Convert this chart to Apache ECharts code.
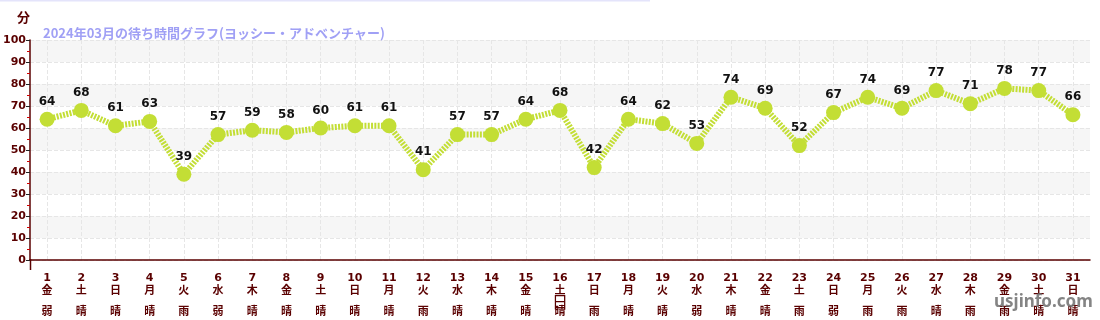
<!DOCTYPE html>
<html><head><meta charset="utf-8">
<script src="https://cdn.jsdelivr.net/npm/echarts@6/dist/echarts.min.js"></script>
<style>html,body{margin:0;padding:0;background:#fff}#c{width:1100px;height:320px}</style>
</head><body><div id="c"></div>
<script>
const days = ['1','2','3','4','5','6','7','8','9','10','11','12','13','14','15','16','17','18','19','20','21','22','23','24','25','26','27','28','29','30','31'];
const weekdays = ['金','土','日','月','火','水','木','金','土','日','月','火','水','木','金','土','日','月','火','水','木','金','土','日','月','火','水','木','金','土','日'];
const weather = ['弱雨','晴','晴','晴','雨','弱雨','晴','晴','晴','晴','晴','雨','晴','晴','晴','晴','雨','晴','晴','弱雨','晴','晴','雨','弱雨','雨','雨','晴','雨','雨','晴','晴'];
const waits = [64,68,61,63,39,57,59,58,60,61,61,41,57,57,64,68,42,64,62,53,74,69,52,67,74,69,77,71,78,77,66];
const yTicks = [0,100,10];

const FONT = "'DejaVu Sans','Noto Sans CJK JP',sans-serif";
const JP = "'Noto Sans CJK JP',sans-serif";
const DARK = '#5a0000';
const GREEN = '#c3de35';

const chart = echarts.init(document.getElementById('c'));
chart.setOption({
  animation: false,
  title: {
    text: '2024年03月の待ち時間グラフ(ヨッシー・アドベンチャー)',
    left: 38, top: 22,
    textStyle: {color: '#a0a0f5', fontSize: 13, fontWeight: 'bold', fontFamily: JP}
  },
  grid: {left: 30, right: 10, top: 40, bottom: 60, containLabel: false, outerBoundsMode: 'none'},
  graphic: [
    {type: 'rect', shape: {x: 0, y: 0, width: 650, height: 1.5}, style: {fill: '#e4e4fb'}, z: 10},
    {type: 'line', shape: {x1: 30.5, y1: 259, x2: 30.5, y2: 270}, style: {stroke: DARK, lineWidth: 1.5}, z: 10},
    {type: 'text', left: 994, top: 294, z: 20,
     style: {text: 'usjinfo.com', fill: 'rgba(110,110,110,0.85)', font: "bold 17px 'Noto Sans', sans-serif"}}
  ],
  xAxis: {
    type: 'category',
    data: days,
    offset: 10,
    name: '日',
    nameLocation: 'middle',
    nameGap: 24,
    nameMoveOverlap: false,
    nameTextStyle: {color: DARK, fontSize: 16, fontFamily: JP},
    axisLine: {lineStyle: {color: DARK, width: 1.5}},
    axisTick: {alignWithLabel: true, length: 4, lineStyle: {color: '#333'}},
    splitLine: {show: true, alignWithLabel: true, lineStyle: {color: '#e6e6e6', type: 'dashed'}},
    axisLabel: {
      interval: 0,
      margin: 2,
      formatter: function (v, i) {
        const w = weather[i].split('');
        let s = '{d|' + v + '}\n{w|' + weekdays[i] + '}\n{t|' + w[0] + '}';
        if (w.length > 1) s += '\n{u|' + w[1] + '}';
        return s;
      },
      rich: {
        d: {color: DARK, fontSize: 11, fontWeight: 'bold', lineHeight: 12, fontFamily: FONT},
        w: {color: DARK, fontSize: 11, fontWeight: 'bold', lineHeight: 12, fontFamily: JP},
        t: {color: DARK, fontSize: 11, fontWeight: 'bold', lineHeight: 30, fontFamily: JP},
        u: {color: DARK, fontSize: 11, fontWeight: 'bold', lineHeight: 12, fontFamily: JP}
      }
    }
  },
  yAxis: {
    type: 'value',
    min: yTicks[0], max: yTicks[1], interval: yTicks[2],
    name: '分',
    nameLocation: 'end',
    nameGap: 16,
    nameTextStyle: {color: DARK, fontSize: 13, fontWeight: 'bold', fontFamily: JP, align: 'right'},
    axisLine: {show: true, lineStyle: {color: DARK, width: 1.5}},
    axisTick: {show: true, length: 4, lineStyle: {color: '#222'}},
    minorTick: {show: true, splitNumber: 2, length: 3, lineStyle: {color: '#d00000'}},
    axisLabel: {color: DARK, fontSize: 11, fontWeight: 'bold', fontFamily: FONT, margin: 4},
    splitLine: {show: true, lineStyle: {color: '#e6e6e6', type: 'dashed'}},
    splitArea: {show: true, areaStyle: {color: ['#ffffff', '#f6f6f6']}}
  },
  series: [{
    type: 'line',
    data: waits,
    symbol: 'circle',
    symbolSize: 15,
    itemStyle: {color: GREEN},
    lineStyle: {color: GREEN, width: 6, type: [2, 1.3]},
    label: {show: true, position: 'top', distance: 4, color: '#111', fontSize: 12, fontWeight: 'bold', fontFamily: FONT}
  }]
});
</script></body></html>
